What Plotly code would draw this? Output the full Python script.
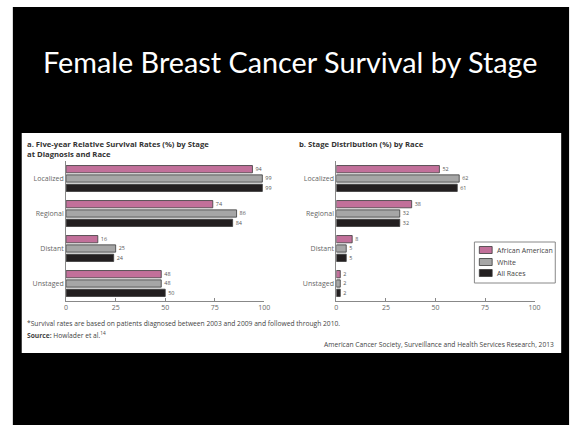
import plotly.graph_objects as go

W, H = 581, 425

stages = ["Localized", "Regional", "Distant", "Unstaged"]
races = ["African American", "White", "All Races"]
colors = ["#C2709A", "#A6A6A6", "#231F20"]

survival_aa = [94, 74, 16, 48]
survival_white = [99, 86, 25, 48]
survival_all = [99, 84, 24, 50]

dist_aa = [52, 38, 8, 2]
dist_white = [62, 32, 5, 2]
dist_all = [61, 32, 5, 2]

x_ticks = [0, 25, 50, 75, 100]

title_text = "Female Breast Cancer Survival by Stage"
sub_a = "a. Five-year Relative Survival Rates (%) by Stage<br>at Diagnosis and Race"
sub_b = "b. Stage Distribution (%) by Race"
footnote = "*Survival rates are based on patients diagnosed between 2003 and 2009 and followed through 2010."
source = "<b>Source:</b> Howlader et al.<sup>14</sup>"
credit = "American Cancer Society, Surveillance and Health Services Research, 2013"

FONT = "Open Sans"

def px(x):
    return x / W

def py(y):
    return 1 - y / H

fig = go.Figure()

left = [survival_aa, survival_white, survival_all]
right = [dist_aa, dist_white, dist_all]

for i, (name, col) in enumerate(zip(races, colors)):
    fig.add_trace(go.Bar(
        y=stages, x=left[i], orientation="h", name=name,
        marker=dict(color=col, line=dict(color="#3a3a3a", width=0.8)),
        text=[str(v) for v in left[i]], textposition="outside",
        textfont=dict(size=6, color="#555555", family=FONT),
        cliponaxis=False, xaxis="x", yaxis="y", showlegend=False,
    ))
for i, (name, col) in enumerate(zip(races, colors)):
    fig.add_trace(go.Bar(
        y=stages, x=right[i], orientation="h", name=name,
        marker=dict(color=col, line=dict(color="#3a3a3a", width=0.8)),
        text=[str(v) for v in right[i]], textposition="outside",
        textfont=dict(size=6, color="#555555", family=FONT),
        cliponaxis=False, xaxis="x2", yaxis="y2", showlegend=False,
    ))

ydom = [py(301), py(161)]
axis_common = dict(range=[0, 100], tickvals=x_ticks, ticks="inside", ticklen=3,
                   tickcolor="#888888", showline=True, linecolor="#888888",
                   linewidth=1, showgrid=False, zeroline=False,
                   tickfont=dict(size=7, color="#666666", family=FONT))
yaxis_common = dict(autorange="reversed", showline=True, linecolor="#888888",
                    linewidth=1, showgrid=False, ticks="", ticklen=0,
                    tickfont=dict(size=7, color="#666666", family=FONT),
                    domain=ydom)

shapes = [
    dict(type="rect", xref="paper", yref="paper", layer="below",
         x0=px(11), x1=px(575), y0=0, y1=py(7),
         fillcolor="black", line=dict(width=0)),
    dict(type="rect", xref="paper", yref="paper", layer="below",
         x0=px(20), x1=px(567), y0=py(353), y1=py(133),
         fillcolor="white", line=dict(width=0)),
    # legend box
    dict(type="rect", xref="paper", yref="paper", layer="above",
         x0=px(479), x1=px(561), y0=py(283), y1=py(242),
         fillcolor="rgba(0,0,0,0)", line=dict(color="#888888", width=1)),
]

annotations = [
    dict(text=title_text, xref="paper", yref="paper", x=px(293), y=py(62),
         xanchor="center", yanchor="middle", showarrow=False,
         font=dict(size=28.8, color="white", family="Lato")),
    dict(text="<b>" + sub_a + "</b>", xref="paper", yref="paper", x=px(23), y=py(137),
         xanchor="left", yanchor="top", align="left", showarrow=False,
         font=dict(size=7.7, color="#333333", family=FONT)),
    dict(text="<b>" + sub_b + "</b>", xref="paper", yref="paper", x=px(299), y=py(137),
         xanchor="left", yanchor="top", align="left", showarrow=False,
         font=dict(size=7.7, color="#333333", family=FONT)),
    dict(text=footnote, xref="paper", yref="paper", x=px(23), y=py(323),
         xanchor="left", yanchor="middle", showarrow=False,
         font=dict(size=6.7, color="#444444", family=FONT)),
    dict(text=source, xref="paper", yref="paper", x=px(23), y=py(335),
         xanchor="left", yanchor="middle", showarrow=False,
         font=dict(size=6.7, color="#444444", family=FONT)),
    dict(text=credit, xref="paper", yref="paper", x=px(562), y=py(344),
         xanchor="right", yanchor="middle", showarrow=False,
         font=dict(size=6.7, color="#444444", family=FONT)),
]

legend_rows = [250, 262, 273]
for name, col, yc in zip(races, colors, legend_rows):
    shapes.append(dict(type="rect", xref="paper", yref="paper", layer="above",
                       x0=px(484), x1=px(497), y0=py(yc + 3.5), y1=py(yc - 3.5),
                       fillcolor=col, line=dict(color="#3a3a3a", width=0.8)))
    annotations.append(dict(text=name, xref="paper", yref="paper", x=px(500), y=py(yc),
                            xanchor="left", yanchor="middle", showarrow=False,
                            font=dict(size=7, color="#444444", family=FONT)))

fig.update_layout(
    width=W, height=H,
    margin=dict(l=0, r=0, t=0, b=0),
    paper_bgcolor="white",
    plot_bgcolor="rgba(0,0,0,0)",
    barmode="group", bargap=0.2, bargroupgap=0.22,
    xaxis=dict(domain=[px(65), px(266)], anchor="y", **axis_common),
    yaxis=dict(anchor="x", **yaxis_common),
    xaxis2=dict(domain=[px(339), px(540)], anchor="y2", **axis_common),
    yaxis2=dict(anchor="x2", **yaxis_common),
    showlegend=False,
    shapes=shapes,
    annotations=annotations,
)

fig.write_html("out.html")
